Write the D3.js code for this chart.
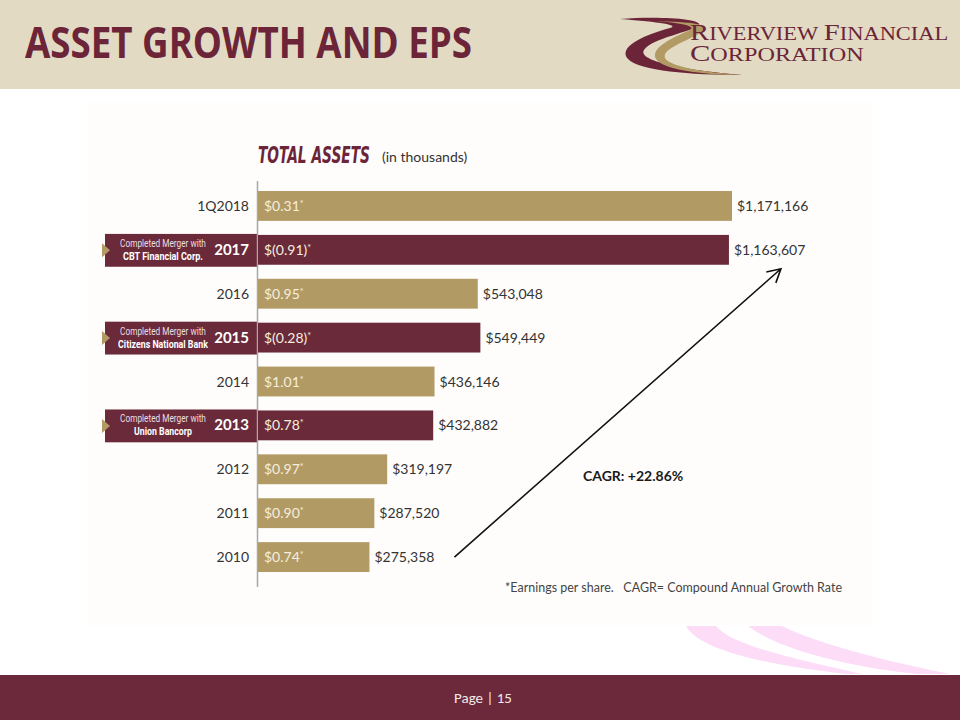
<!DOCTYPE html>
<html>
<head>
<meta charset="utf-8">
<script src="https://cdn.jsdelivr.net/npm/d3@7"></script>
<style>
  html, body { margin: 0; padding: 0; background: #ffffff; }
  svg { display: block; }
</style>
</head>
<body>
<div id="chart"></div>
<script>
// chart data
const categories = ["1Q2018", "2017", "2016", "2015", "2014", "2013", "2012", "2011", "2010"];
const assets = [1171166, 1163607, 543048, 549449, 436146, 432882, 319197, 287520, 275358];
const eps = ["$0.31", "$(0.91)", "$0.95", "$(0.28)", "$1.01", "$0.78", "$0.97", "$0.90", "$0.74"];
const mergerYears = ["2017", "2015", "2013"];
const mergerPartners = ["CBT Financial Corp.", "Citizens National Bank", "Union Bancorp"];

const W = 960, H = 720;
const gold = "#b29a64", maroon = "#6b2a3a", ink = "#333333";
const bodyFont = "Lato, 'Open Sans', sans-serif";
const narrowFont = "Roboto, 'Liberation Sans', sans-serif";

const svg = d3.select("#chart").append("svg")
  .attr("width", W).attr("height", H)
  .attr("viewBox", [0, 0, W, H]);

// squeeze a text horizontally to a given width, keeping its anchor point
function fitWidth(sel, len, ax) {
  const w = sel.node().getBBox().width;
  if (w > 0) sel.attr("transform", `translate(${ax},0) scale(${len / w},1) translate(${-ax},0)`);
}

// header band
svg.append("rect").attr("x", 0).attr("y", 0).attr("width", W).attr("height", 89).attr("fill", "#e2dac2");
svg.append("text")
  .attr("x", 25).attr("y", 58)
  .attr("textLength", 447).attr("lengthAdjust", "spacingAndGlyphs")
  .style("font", "bold 43px 'Open Sans', Lato, sans-serif")
  .attr("fill", "#6b2438")
  .text("ASSET GROWTH AND EPS");

// logo
const logo = svg.append("g");
logo.append("path")
  .attr("d", "M620,19 C660,16 702,19 699,25 C692,32 652,38 644,50 C637,61 684,70 742,75 C690,75 640,71 628,59 C618,48 640,36 670,28 C680,25 660,22 620,19 Z")
  .attr("fill", "#6b2438");
logo.append("path")
  .attr("d", "M656,21 C690,22 714,24 703,32 C684,42 662,49 665,58 C669,66 700,72 742,75 C700,75 662,69 656,59 C650,48 672,38 690,30 C696,26 682,23 656,21 Z")
  .attr("fill", gold);
function logoLine(y, parts, len) {
  const t = logo.append("text")
    .attr("x", 690).attr("y", y)
    .style("font-family", "'Liberation Serif', 'DejaVu Serif', serif")
    .attr("fill", "#6b2438");
  parts.forEach(p => t.append("tspan").style("font-size", p[1] + "px").text(p[0]));
  fitWidth(t, len, 690);
}
logoLine(40, [["R", 23], ["IVERVIEW", 18], [" ", 18], ["F", 23], ["INANCIAL", 18]], 258);
logoLine(61, [["C", 24], ["ORPORATION", 19]], 174);

// chart panel
svg.append("rect").attr("x", 88).attr("y", 103).attr("width", 784).attr("height", 522).attr("fill", "#fefdfc");

// decorative swoosh, bottom right
svg.append("path")
  .attr("d", "M686,626 L716,626 C732,646 800,660 862,674 L846,674 C776,666 700,652 686,626 Z")
  .attr("fill", "#fcdcf6");
svg.append("path")
  .attr("d", "M748,626 L782,626 C822,646 900,664 950,674 L918,674 C858,668 782,652 748,626 Z")
  .attr("fill", "#fcdcf6");

// footer
svg.append("rect").attr("x", 0).attr("y", 675).attr("width", W).attr("height", 45).attr("fill", "#6c293b");
svg.append("text")
  .attr("x", 483).attr("y", 703).attr("text-anchor", "middle")
  .style("font", "15px Carlito, 'Open Sans', sans-serif")
  .attr("fill", "#f2e8ea")
  .text("Page | 15");

// chart title
const title = svg.append("text")
  .attr("x", 258).attr("y", 163)
  .style("font-family", "'DejaVu Sans Condensed', 'Liberation Sans Narrow', 'DejaVu Sans', sans-serif")
  .style("font-stretch", "condensed")
  .style("font-weight", "bold").style("font-style", "italic").style("font-size", "23px")
  .attr("fill", "#6b2438")
  .text("TOTAL ASSETS");
fitWidth(title, 112, 258);
svg.append("text")
  .attr("x", 382).attr("y", 162)
  .style("font", `14px ${bodyFont}`).attr("fill", ink)
  .text("(in thousands)");

// scales
const y = d3.scaleBand().domain(categories).range([184, 579]).paddingInner(0.32).paddingOuter(0.16);
const x = d3.scaleLinear().domain([0, 1171166]).range([258, 732]);
const isMerger = c => mergerYears.includes(c);
const fmt = d3.format("$,");

// merger call-out boxes
const partnerWidths = [80, 90, 58];
mergerYears.forEach((yr, i) => {
  const y0 = y(yr) - 1, h = y.bandwidth() + 3;
  const g = svg.append("g");
  g.append("rect").attr("x", 105).attr("y", y0).attr("width", 153).attr("height", h).attr("fill", maroon);
  g.append("path")
    .attr("d", `M102,${y0 + h / 2 - 7} L110,${y0 + h / 2} L102,${y0 + h / 2 + 7} Z`)
    .attr("fill", gold);
  const t1 = g.append("text")
    .attr("x", 163).attr("y", y0 + 13).attr("text-anchor", "middle")
    .style("font", `11px ${narrowFont}`).attr("fill", "#eadfe2")
    .text("Completed Merger with");
  fitWidth(t1, 86, 163);
  const t2 = g.append("text")
    .attr("x", 163).attr("y", y0 + 26).attr("text-anchor", "middle")
    .style("font", `bold 11px ${narrowFont}`).attr("fill", "#ffffff")
    .text(mergerPartners[i]);
  fitWidth(t2, partnerWidths[i], 163);
});

// category labels
svg.append("g").selectAll("text")
  .data(categories)
  .join("text")
  .attr("x", 249)
  .attr("y", d => y(d) + y.bandwidth() / 2 + 5)
  .attr("text-anchor", "end")
  .style("font", d => isMerger(d) ? `bold 15px ${bodyFont}` : `14px ${bodyFont}`)
  .attr("fill", d => isMerger(d) ? "#ffffff" : ink)
  .text(d => d);

// axis line
svg.append("line")
  .attr("x1", 257.5).attr("x2", 257.5).attr("y1", 181).attr("y2", 587)
  .attr("stroke", "#a8a8a8").attr("stroke-width", 1.5);

// bars
const rows = categories.map((c, i) => ({ c, v: assets[i], e: eps[i] }));
const bar = svg.append("g").selectAll("g")
  .data(rows)
  .join("g");

bar.append("rect")
  .attr("x", x(0))
  .attr("y", d => y(d.c))
  .attr("width", d => x(d.v) - x(0))
  .attr("height", y.bandwidth())
  .attr("fill", d => isMerger(d.c) ? maroon : gold);

const epsText = bar.append("text")
  .attr("x", x(0) + 6)
  .attr("y", d => y(d.c) + y.bandwidth() / 2 + 5)
  .style("font", `14px ${bodyFont}`)
  .attr("fill", "#f6eedf");
epsText.append("tspan").text(d => d.e);
epsText.append("tspan").attr("dy", -4).style("font-size", "9px").text("*");

bar.append("text")
  .attr("x", d => x(d.v) + 5)
  .attr("y", d => y(d.c) + y.bandwidth() / 2 + 5)
  .style("font", `14px ${bodyFont}`)
  .attr("fill", ink)
  .text(d => fmt(d.v));

// growth arrow
const ax1 = x(assets[8]) + 85, ay1 = y("2010") + y.bandwidth() / 2;
const ax2 = x(assets[1]) + 52, ay2 = y("2017") + y.bandwidth() + 4;
const ang = Math.atan2(ay2 - ay1, ax2 - ax1);
const arm = 15;
svg.append("path")
  .attr("d", `M${ax1},${ay1} L${ax2},${ay2}` +
    ` M${ax2 - arm * Math.cos(ang - 0.5)},${ay2 - arm * Math.sin(ang - 0.5)} L${ax2},${ay2}` +
    ` L${ax2 - arm * Math.cos(ang + 0.5)},${ay2 - arm * Math.sin(ang + 0.5)}`)
  .attr("fill", "none").attr("stroke", "#111").attr("stroke-width", 1.6);

svg.append("text")
  .attr("x", 583).attr("y", 481)
  .style("font", `bold 14px ${bodyFont}`).attr("fill", "#1a1a1a")
  .text("CAGR: +22.86%");

svg.append("text")
  .attr("x", 505).attr("y", 592)
  .attr("xml:space", "preserve")
  .attr("textLength", 337).attr("lengthAdjust", "spacingAndGlyphs")
  .style("font", `13px ${bodyFont}`).attr("fill", "#444")
  .text("*Earnings per share.   CAGR= Compound Annual Growth Rate");
</script>
</body>
</html>
